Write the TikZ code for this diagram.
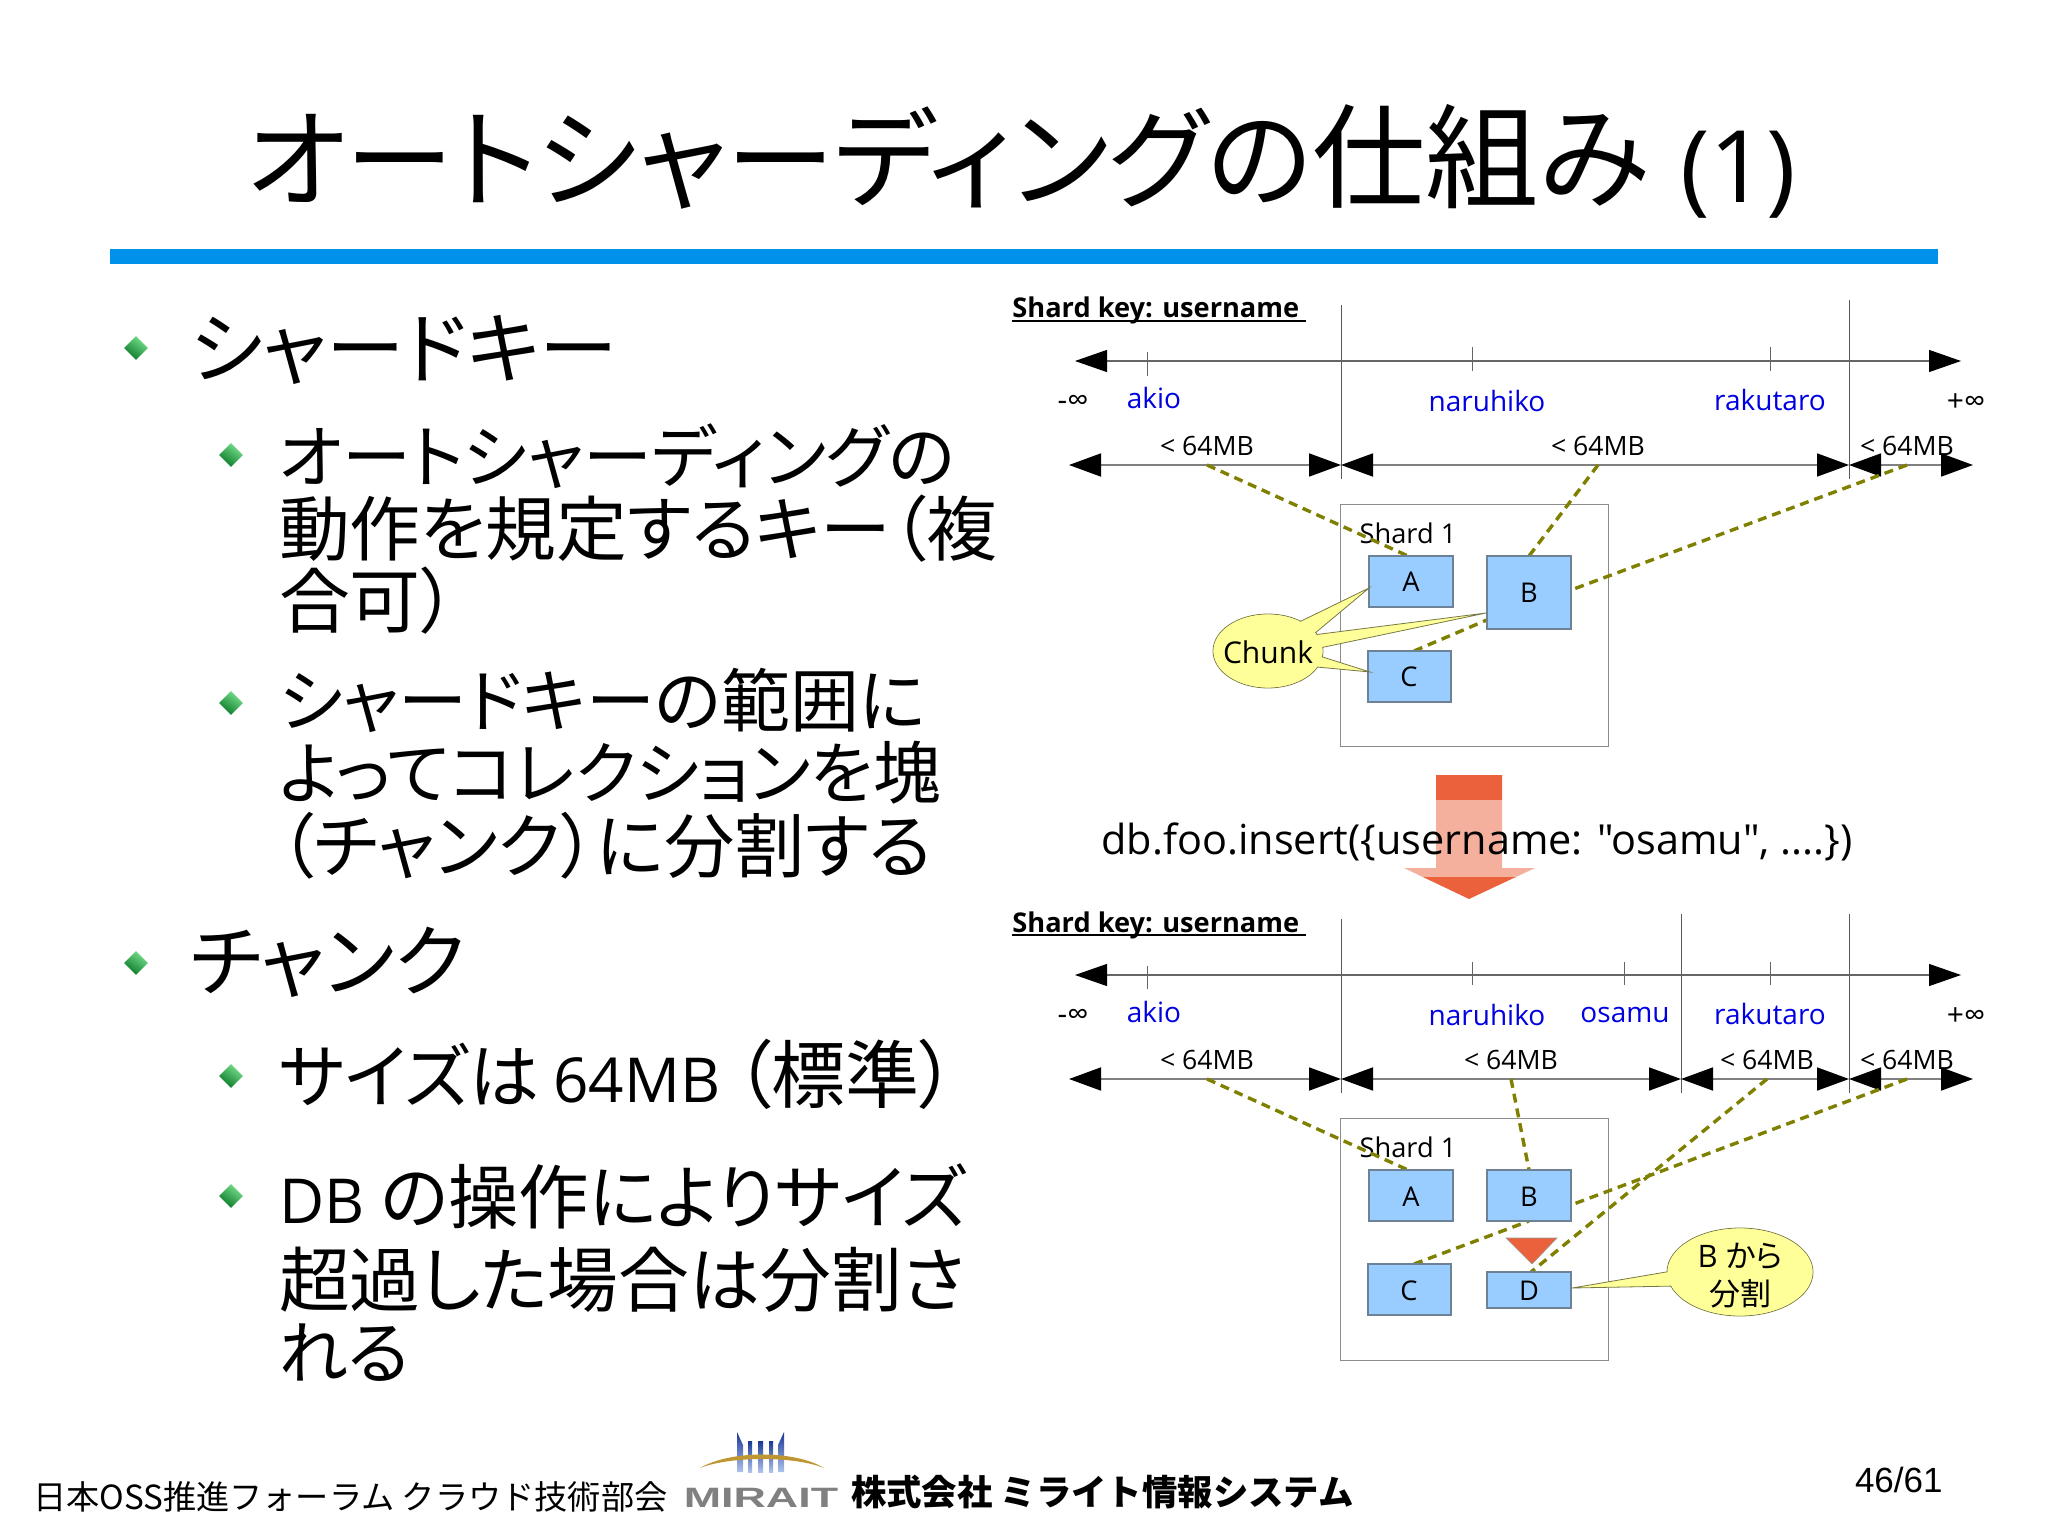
\documentclass[tikz,border=0pt]{standalone}
\usepackage{fontspec}
\usetikzlibrary{arrows.meta,shapes.geometric}
\setmainfont{Open Sans}
\newfontfamily\osplain{Open Sans}
\newfontfamily\jp[RawFeature=+palt]{Noto Sans CJK JP}
\newfontfamily\jpfull{Noto Sans CJK JP}
\newfontfamily\ars{Liberation Sans}
\newcommand\fsz[1]{\fontsize{#1}{#1}\selectfont}
\definecolor{barblue}{RGB}{0,145,235}
\definecolor{chunkblue}{RGB}{153,204,255}
\definecolor{chunkedge}{RGB}{110,130,150}
\definecolor{olive2}{RGB}{128,128,0}
\definecolor{calloutfill}{RGB}{255,255,153}
\definecolor{calloutedge}{RGB}{120,120,70}
\definecolor{redarrow}{RGB}{235,97,60}
\definecolor{namblue}{RGB}{0,0,225}
\definecolor{gemlight}{RGB}{120,225,140}
\definecolor{gemmid}{RGB}{20,165,60}
\definecolor{gemdark}{RGB}{10,120,40}
\definecolor{towertop}{RGB}{25,55,150}
\definecolor{towerbot}{RGB}{175,195,235}
\definecolor{gold}{RGB}{190,150,50}
\tikzset{
  txt/.style={anchor=base west,inner sep=0pt,outer sep=0pt,text=black},
  ctr/.style={anchor=center,inner sep=0pt,outer sep=0pt},
  lvla/.style={txt,font=\jp\fsz{39.3}},
  lvlb/.style={txt,font=\jp\fsz{#1}},
  lvlb/.default=35,
  gem/.style={diamond,inner sep=0pt,minimum width=12pt,minimum height=12pt,shading=axis,
     top color=gemlight,middle color=gemmid,bottom color=gemdark,shading angle=-35},
  tower/.style={top color=towertop,bottom color=towerbot},
  keylbl/.style={anchor=base west,inner sep=0pt,font=\bfseries\fsz{13.6}},
  keyline/.style={draw=black,line width=0.9pt},
  vline/.style={draw=black!65,line width=0.5pt},
  tick/.style={draw=black!60,line width=0.4pt},
  axisa/.style={draw=black!60,line width=0.6pt,{Triangle[length=16pt,width=11pt,black]}-{Triangle[length=16pt,width=11pt,black]}},
  axisb/.style={draw=black!50,line width=0.9pt,{Triangle[length=16pt,width=11.5pt,black]}-{Triangle[length=16pt,width=11.5pt,black]}},
  uname/.style={ctr,font=\fsz{14},text=namblue},
  inf/.style={ctr,font=\fsz{15}},
  limit/.style={ctr,font=\fsz{13.3}},
  shardbox/.style={draw=black!45,line width=0.5pt,fill=white},
  chunk/.style={draw=chunkedge,line width=0.6pt,fill=chunkblue},
  chunktxt/.style={ctr,font=\fsz{13.6}},
  link/.style={draw=olive2,line width=1.7pt,dash pattern=on 4.5pt off 3pt},
  callout/.style={draw=calloutedge,line width=0.4pt,fill=calloutfill},
  calloutcore/.style={fill=calloutfill,draw=none},
}
\begin{document}
\begin{tikzpicture}[x=0.5pt,y=-0.5pt]
\useasboundingbox (0,0) rectangle (2048,1535);

% Title
\node[txt,font=\jp\fsz{54.4}] (title) at (246,200) {オートシャーディングの\fsz{56.6}仕組み};
\node[txt,font=\fsz{50}] (titlenum) at (1680,203) {(1)};
\fill[barblue] (110,249) rectangle (1938,264);

% Left column
\node[gem] (g1) at (136,348) {};
\node[gem] (g2) at (231,455) {};
\node[gem] (g3) at (231,703) {};
\node[gem] (g4) at (136,963) {};
\node[gem] (g5) at (231,1076) {};
\node[gem] (g6) at (231,1196) {};
\node[lvla] (l1) at (190,378) {シャードキー};
\node[lvlb=34.5] (l2a) at (279,482) {オートシャーディングの};
\node[lvlb=35.4] (l2b) at (279,555) {動作を規定するキー（複};
\node[lvlb=35.4] (l2c) at (279,627) {合可）};
\node[lvlb=34.5] (l3a) at (279,726) {シャードキーの範囲に};
\node[lvlb=34.1] (l3b) at (279,798) {よってコレクションを塊};
\node[lvlb=35.2] (l3c) at (279,872) {（チャンク）に分割する};
\node[lvla] (l4) at (190,990) {チャンク};
\node[txt] (l5) at (279,1102) {\jp\fsz{35}サイズは\normalfont\fsz{31}\hspace{-1pt} 64MB\hspace{-1pt} \jp\fsz{37}（標準）};
\node[txt] (l6a) at (279,1223) {\fsz{31}DB \jp\fsz{35.2}の操作によりサイズ};
\node[lvlb=35.4] (l6b) at (279,1306) {超過した場合は分割さ};
\node[lvlb=34.5] (l6c) at (279,1378) {れる};

% ---------- Top diagram
\node[keylbl] (k1) at (1012,318) {Shard key: username};
\coordinate (k1l) at (1012,321); \coordinate (k1r) at (1306,321);
\draw[keyline] (k1l) -- (k1r);
\coordinate (v1a) at (1341,305); \coordinate (v1b) at (1341,479);
\coordinate (v2a) at (1849,300); \coordinate (v2b) at (1849,479);
\draw[vline] (v1a) -- (v1b);
\draw[vline] (v2a) -- (v2b);
\coordinate (ax1l) at (1075,361); \coordinate (ax1r) at (1961,361);
\draw[axisa] (ax1l) -- (ax1r);
\coordinate (ta1) at (1147,352); \coordinate (tb1) at (1147,376);
\coordinate (ta2) at (1472,347); \coordinate (tb2) at (1472,371);
\coordinate (ta3) at (1770,347); \coordinate (tb3) at (1770,371);
\draw[tick] (ta1) -- (tb1);
\draw[tick] (ta2) -- (tb2);
\draw[tick] (ta3) -- (tb3);
\node[inf] (n1m) at (1073,403) {-∞};
\node[uname] (n1a) at (1154,398) {akio};
\node[uname] (n1n) at (1487,401) {naruhiko};
\node[uname] (n1r) at (1770,400) {rakutaro};
\node[inf] (n1p) at (1966,403) {+∞};
\coordinate (s1a) at (1069,465); \coordinate (s1b) at (1341,465); \coordinate (s1c) at (1849,465); \coordinate (s1d) at (1973,465);
\draw[axisb] (s1a) -- (s1b);
\draw[axisb] (s1b) -- (s1c);
\draw[axisb] (s1c) -- (s1d);
\node[limit] (m1a) at (1207,446) {< 64MB};
\node[limit] (m1b) at (1598,446) {< 64MB};
\node[limit] (m1c) at (1907,446) {< 64MB};
\coordinate (p1a) at (1207,465); \coordinate (p1b) at (1598,465); \coordinate (p1c) at (1907,465);
\draw[shardbox] (1340,504) rectangle (1608,746);
\node[chunktxt] (sh1) at (1408,533) {Shard 1};
\coordinate (A1t) at (1408,556); \coordinate (B1t) at (1529,556); \coordinate (B1r) at (1571,590);
\coordinate (C1t) at (1414,651); \coordinate (B1c) at (1529,602);
\draw[link] (p1a) -- (A1t);
\draw[link] (p1b) -- (B1t);
\draw[link] (p1c) -- (B1r);
\draw[link] (C1t) -- (B1c);
\draw[chunk] (1369,556) rectangle (1453,607);
\draw[chunk] (1487,556) rectangle (1571,629);
\draw[chunk] (1368,651) rectangle (1451,702);
\node[chunktxt] (A1) at (1411,582) {A};
\node[chunktxt] (B1) at (1529,593) {B};
\node[chunktxt] (C1) at (1409,677) {C};
% Chunk callout
\draw[callout] (1268,651) ellipse [x radius=55,y radius=37];
\draw[callout] (1295,624) -- (1369,588) -- (1308,639) -- cycle;
\draw[callout] (1305,636) -- (1486,613) -- (1310,650) -- cycle;
\draw[callout] (1310,653) -- (1370,672) -- (1306,666) -- cycle;
\fill[calloutcore] (1268,651) ellipse [x radius=54.4,y radius=36.4];
\node[ctr,font=\fsz{15}] (chunklbl) at (1268,652) {Chunk};

% ---------- Arrow and insert
\fill[redarrow] (1436,775) -- (1502,775) -- (1502,868) -- (1535,868) -- (1469,899) -- (1404,868) -- (1436,868) -- cycle;
\fill[white,opacity=0.5] (1395,800) rectangle (1545,877);
\node[ctr,font=\osplain\fsz{20.7}] (ins) at (1477,842) {db.foo.insert(\{username: "osamu", ....\})};

% ---------- Bottom diagram
\node[keylbl] (k2) at (1012,932) {Shard key: username};
\coordinate (k2l) at (1012,935); \coordinate (k2r) at (1306,935);
\draw[keyline] (k2l) -- (k2r);
\coordinate (w1a) at (1341,919); \coordinate (w1b) at (1341,1093);
\coordinate (w2a) at (1681,914); \coordinate (w2b) at (1681,1093);
\coordinate (w3a) at (1849,914); \coordinate (w3b) at (1849,1093);
\draw[vline] (w1a) -- (w1b);
\draw[vline] (w2a) -- (w2b);
\draw[vline] (w3a) -- (w3b);
\coordinate (ax2l) at (1075,975); \coordinate (ax2r) at (1961,975);
\draw[axisa] (ax2l) -- (ax2r);
\coordinate (ua1) at (1147,966); \coordinate (ub1) at (1147,989);
\coordinate (ua2) at (1472,962); \coordinate (ub2) at (1472,985);
\coordinate (ua3) at (1624,962); \coordinate (ub3) at (1624,985);
\coordinate (ua4) at (1770,962); \coordinate (ub4) at (1770,985);
\draw[tick] (ua1) -- (ub1);
\draw[tick] (ua2) -- (ub2);
\draw[tick] (ua3) -- (ub3);
\draw[tick] (ua4) -- (ub4);
\node[inf] (n2m) at (1073,1017) {-∞};
\node[uname] (n2a) at (1154,1012) {akio};
\node[uname] (n2n) at (1487,1015) {naruhiko};
\node[uname] (n2o) at (1625,1015) {osamu};
\node[uname] (n2r) at (1770,1014) {rakutaro};
\node[inf] (n2p) at (1966,1017) {+∞};
\coordinate (s2a) at (1069,1079); \coordinate (s2b) at (1341,1079); \coordinate (s2c) at (1681,1079); \coordinate (s2d) at (1849,1079); \coordinate (s2e) at (1973,1079);
\draw[axisb] (s2a) -- (s2b);
\draw[axisb] (s2b) -- (s2c);
\draw[axisb] (s2c) -- (s2d);
\draw[axisb] (s2d) -- (s2e);
\node[limit] (m2a) at (1207,1060) {< 64MB};
\node[limit] (m2b) at (1511,1060) {< 64MB};
\node[limit] (m2c) at (1767,1060) {< 64MB};
\node[limit] (m2d) at (1907,1060) {< 64MB};
\coordinate (p2a) at (1207,1079); \coordinate (p2b) at (1511,1079); \coordinate (p2c) at (1767,1079); \coordinate (p2d) at (1907,1079);
\draw[shardbox] (1340,1118) rectangle (1608,1360);
\node[chunktxt] (sh2) at (1408,1147) {Shard 1};
\coordinate (A2t) at (1408,1170); \coordinate (B2t) at (1529,1170); \coordinate (B2r) at (1571,1205);
\coordinate (B2b) at (1529,1221); \coordinate (C2t) at (1414,1264); \coordinate (D2t) at (1531,1272);
\draw[link] (p2a) -- (A2t);
\draw[link] (p2b) -- (B2t);
\draw[link] (p2d) -- (B2r);
\draw[link] (p2c) -- (D2t);
\draw[link] (C2t) -- (B2b);
\draw[chunk] (1369,1170) rectangle (1453,1221);
\draw[chunk] (1487,1170) rectangle (1571,1221);
\draw[chunk] (1368,1264) rectangle (1451,1315);
\draw[chunk] (1487,1272) rectangle (1571,1308);
\node[chunktxt] (A2) at (1411,1197) {A};
\node[chunktxt] (B2) at (1529,1197) {B};
\node[chunktxt] (C2) at (1409,1291) {C};
\node[chunktxt] (D2) at (1529,1291) {D};
\fill[redarrow,draw=black!40,line width=0.3pt] (1506,1238) -- (1557,1238) -- (1532,1264) -- cycle;
% B kara callout
\draw[callout] (1740,1272) ellipse [x radius=73,y radius=44];
\draw[callout] (1672,1271) -- (1572,1288) -- (1676,1286) -- cycle;
\fill[calloutcore] (1740,1272) ellipse [x radius=72.4,y radius=43.4];
\node[ctr,font=\fsz{15.5}] (bk1) at (1740,1256) {B \jp から};
\node[ctr,font=\jp\fsz{15.5}] (bk2) at (1740,1294) {分割};

% ---------- Footer
\node[txt,font=\jpfull\fsz{16.6}] (foot) at (33,1509) {日本OSS推進フォーラム クラウド技術部会};
\shade[tower] (737,1432) -- (743,1445) -- (743,1472) -- (737,1472) -- cycle;
\shade[tower] (784,1432) -- (778,1445) -- (778,1472) -- (784,1472) -- cycle;
\shade[tower] (748,1441) rectangle (752,1472);
\shade[tower] (758,1441) rectangle (763,1472);
\shade[tower] (769,1441) rectangle (773,1472);
\fill[gold] (700,1468) .. controls (730,1450) and (795,1450) .. (824,1468) .. controls (795,1456) and (730,1456) .. (700,1468) -- cycle;
\node[ctr,font=\ars\bfseries\fsz{14},text=black!50,xscale=1.6] (mirait) at (761,1498) {MIRAIT};
\node[txt,font=\jpfull\bfseries\fsz{17.7}] (corp) at (851,1505) {株式会社 ミライト情報システム};
\node[txt,font=\ars\fsz{17.5}] (pg) at (1855,1492) {46/61};
\end{tikzpicture}
\end{document}
